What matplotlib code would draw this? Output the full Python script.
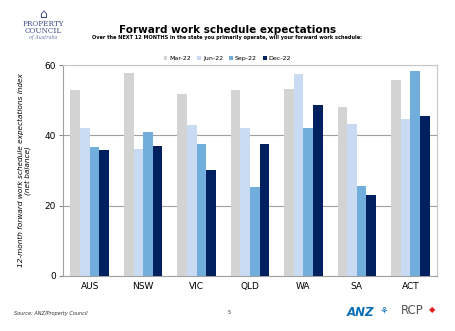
import matplotlib
matplotlib.use("Agg")
import matplotlib.pyplot as plt
import numpy as np

categories = ["AUS", "NSW", "VIC", "QLD", "WA", "SA", "ACT"]
series_names = ["Mar-22", "Jun-22", "Sep-22", "Dec-22"]
mar22 = [52.9, 57.7, 51.7, 52.9, 53.1, 48.2, 55.8]
jun22 = [42.2, 36.2, 43.0, 42.2, 57.5, 43.3, 44.6]
sep22 = [36.8, 40.9, 37.6, 25.3, 42.2, 25.6, 58.4]
dec22 = [35.7, 37.1, 30.1, 37.6, 48.6, 22.9, 45.5]
colors = ["#D3D3D3", "#C9DBF2", "#72AEDC", "#002060"]

fig = plt.figure(figsize=(4.55, 3.31), dpi=100)
fig.patch.set_facecolor("white")
ax = fig.add_axes([0.1385, 0.1662, 0.8219, 0.6374])

x = np.arange(len(categories))
w = 0.18
for i, (vals, c, name) in enumerate(zip([mar22, jun22, sep22, dec22], colors, series_names)):
    ax.bar(x + (i - 1.5) * w, vals, width=w, color=c, label=name, zorder=3)

ax.set_xlim(-0.5, len(categories) - 0.5)
ax.set_ylim(0, 60)
ax.set_yticks([0, 20, 40, 60])
ax.set_xticks(x)
ax.set_xticklabels(categories)
ax.tick_params(axis="y", labelsize=6.5, length=3, color="#888888", pad=2)
ax.tick_params(axis="x", labelsize=6.5, length=0, pad=4)
ax.grid(axis="y", color="#A0A0A0", linewidth=0.8, zorder=0)
for s in ax.spines.values():
    s.set_color("#C8C8C8")
    s.set_linewidth(0.8)
ax.spines["left"].set_color("#A0A0A0")
ax.spines["bottom"].set_color("#A0A0A0")

ax.set_ylabel("12-month forward work schedule expectations index\n(net balance)",
              fontsize=5.3, fontstyle="italic", labelpad=10, linespacing=1.1)

leg = ax.legend(loc="lower center", bbox_to_anchor=(0.44, 1.0), ncol=4, frameon=False,
                fontsize=4.5, handlelength=0.6, handleheight=0.6, handletextpad=0.3,
                columnspacing=1.0, borderaxespad=0.2)

fig.text(0.5, 1 - 30 / 331, "Forward work schedule expectations", ha="center", va="center",
         fontsize=7.5, fontweight="bold")
fig.text(0.5, 1 - 38 / 331,
         "Over the NEXT 12 MONTHS in the state you primarily operate, will your forward work schedule:",
         ha="center", va="center", fontsize=3.6, fontweight="bold")

# Property Council logo (text approximation)
fig.text(43 / 455, 1 - 24 / 331, "PROPERTY", ha="center", va="center", fontsize=5.2,
         family="DejaVu Serif", color="#3E4C86")
fig.text(43 / 455, 1 - 31 / 331, "COUNCIL", ha="center", va="center", fontsize=5.2,
         family="DejaVu Serif", color="#3E4C86")
fig.text(43 / 455, 1 - 37 / 331, "of Australia", ha="center", va="center", fontsize=3.5,
         family="DejaVu Serif", fontstyle="italic", color="#6A78A8")
fig.text(43 / 455, 1 - 14 / 331, "\u2302", ha="center", va="center", fontsize=9,
         color="#3E4C86")

# Footer
fig.text(14 / 455, 1 - 313 / 331, "Source: ANZ/Property Council", ha="left", va="center",
         fontsize=3.6, fontstyle="italic", color="#333333")
fig.text(229 / 455, 1 - 312 / 331, "5", ha="center", va="center", fontsize=3.6, color="#333333")
fig.text(374 / 455, 1 - 312 / 331, "ANZ", ha="right", va="center", fontsize=8.5,
         fontweight="bold", fontstyle="italic", color="#0A6FB5")
fig.text(384 / 455, 1 - 311 / 331, "\u2698", ha="center", va="center", fontsize=7, color="#0A6FB5")
fig.text(412 / 455, 1 - 311 / 331, "RCP", ha="center", va="center", fontsize=8.5,
         color="#555555")
fig.text(432 / 455, 1 - 310 / 331, "\u25C6", ha="center", va="center", fontsize=6, color="#E02020")

fig.savefig("out.png", dpi=100, facecolor="white")
